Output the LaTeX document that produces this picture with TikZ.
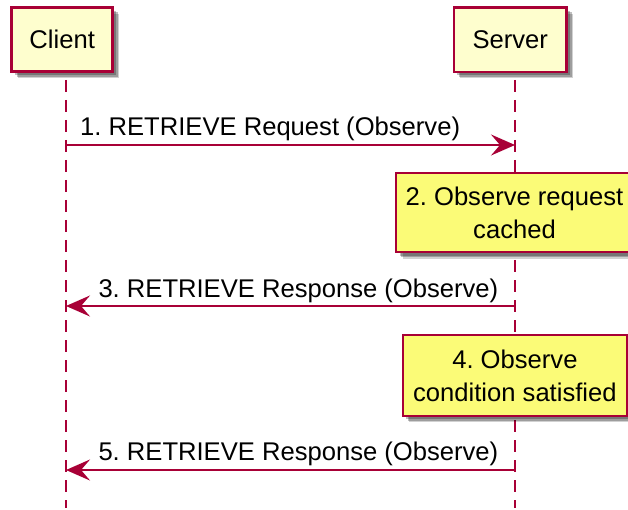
\documentclass[tikz,border=0pt]{standalone}
\usepackage{fontspec}
\setmainfont{Liberation Sans}
\usetikzlibrary{arrows.meta,shadows}
\definecolor{pumlred}{HTML}{A80036}
\definecolor{partfill}{HTML}{FEFECE}
\definecolor{notefill}{HTML}{FBFB77}
\begin{document}
\frenchspacing
\begin{tikzpicture}[x=1pt,y=-1pt,
  font=\fontsize{25.6}{33}\selectfont\frenchspacing,
  pshadow/.style={
    drop shadow={shadow xshift=6.5pt,shadow yshift=-6.5pt,fill=black,opacity=0.18},
    drop shadow={shadow xshift=5pt,shadow yshift=-5pt,fill=black,opacity=0.25},
    drop shadow={shadow xshift=3.5pt,shadow yshift=-3.5pt,fill=black,opacity=0.25}},
  participant/.style={draw=pumlred,line width=2.6pt,fill=partfill,minimum height=64.4pt,inner sep=0pt,pshadow},
  notebox/.style={draw=pumlred,line width=2pt,fill=notefill,align=center,inner sep=0pt,pshadow},
  lifeline/.style={pumlred,line width=2pt,dash pattern=on 11.7pt off 8.3pt},
  msg/.style={pumlred,line width=2pt,-{Stealth[length=24pt,width=21pt,inset=9pt]}},
  msglabel/.style={anchor=base west,inner sep=0pt}]
\clip (0,0) rectangle (628,510);
% lifelines
\coordinate (clTop) at (66,80);
\coordinate (clBot) at (66,508);
\coordinate (svTop) at (515,80);
\coordinate (svBot) at (515,508);
\draw[lifeline] (clTop) -- (clBot);
\draw[lifeline] (svTop) -- (svBot);
% participants
\node[participant,minimum width=101pt] (client) at (62.2,39.5) {Client};
\node[participant,minimum width=112.7pt] (server) at (510.3,39.7) {Server};
% notes
\node[notebox,minimum width=237pt,minimum height=79pt,yshift=-1.5pt] (n2) at (514.5,211.2) {2. Observe request\\cached};
\node[notebox,minimum width=224.3pt,minimum height=80.7pt] (n4) at (514.9,375.4) {4. Observe\\condition satisfied};
% messages
\coordinate (c1) at (66,145);
\coordinate (s1) at (515,145);
\coordinate (c3) at (66,306);
\coordinate (s3) at (515,306);
\coordinate (c5) at (66,470);
\coordinate (s5) at (515,470);
\draw[msg] (c1) -- (s1);
\draw[msg] (s3) -- (c3);
\draw[msg] (s5) -- (c5);
\node[msglabel] (m1) at (80,136) {1. RETRIEVE Request (Observe)};
\node[msglabel] (m3) at (98.3,297) {3. RETRIEVE Response (Observe)};
\node[msglabel] (m5) at (98.3,460.5) {5. RETRIEVE Response (Observe)};
\end{tikzpicture}
\end{document}
